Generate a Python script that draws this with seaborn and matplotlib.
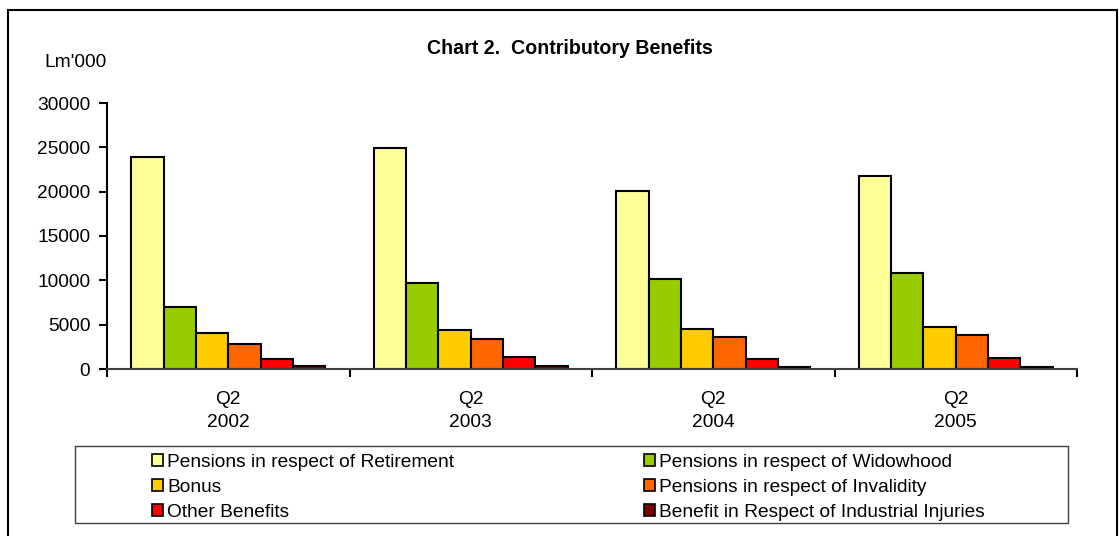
import matplotlib
matplotlib.use("Agg")
import matplotlib.pyplot as plt
import matplotlib.patches as mpatches
import pandas as pd
import seaborn as sns

# values in Lm'000
periods = ["Q2\n2002", "Q2\n2003", "Q2\n2004", "Q2\n2005"]
retirement = [23900, 24900, 20100, 21800]
widowhood = [7000, 9700, 10100, 10850]
bonus = [4050, 4350, 4500, 4700]
invalidity = [2850, 3350, 3650, 3800]
other = [1150, 1350, 1100, 1200]
injuries = [300, 300, 250, 250]

series = {
    "Pensions in respect of Retirement": retirement,
    "Pensions in respect of Widowhood": widowhood,
    "Bonus": bonus,
    "Pensions in respect of Invalidity": invalidity,
    "Other Benefits": other,
    "Benefit in Respect of Industrial Injuries": injuries,
}
colors = ["#FFFF99", "#99CC00", "#FFCC00", "#FF6600", "#FF0000", "#800000"]

rows = []
for name, vals in series.items():
    for p, v in zip(periods, vals):
        rows.append({"period": p, "benefit": name, "value": v})
df = pd.DataFrame(rows)

sns.set_style("white")
plt.rcParams["font.family"] = ["Liberation Sans", "DejaVu Sans"]
plt.rcParams["text.color"] = "black"
plt.rcParams["xtick.color"] = "black"
plt.rcParams["ytick.color"] = "black"
plt.rcParams["xtick.labelcolor"] = "black"
plt.rcParams["ytick.labelcolor"] = "black"

fig = plt.figure(figsize=(11.19, 5.36), dpi=100)
ax = fig.add_axes([107 / 1119, 1 - 369 / 536, (1077 - 107) / 1119, (369 - 103) / 536])

sns.barplot(data=df, x="period", y="value", hue="benefit", palette=colors,
            order=periods, hue_order=list(series), width=0.8, saturation=1,
            edgecolor="black", linewidth=1.5, ax=ax, legend=False)

ax.set_xlim(-0.5, len(periods) - 0.5)
ax.set_ylim(0, 30000)
ax.set_yticks(range(0, 30001, 5000))
ax.set_xlabel("")
ax.set_ylabel("")
for s in ["top", "right"]:
    ax.spines[s].set_visible(False)
ax.spines["left"].set_linewidth(1.5)
ax.spines["left"].set_color("black")
ax.spines["bottom"].set_linewidth(1.5)
ax.spines["bottom"].set_color("#404040")

# tick marks sit on the group boundaries, labels in the middle
ax.set_xticks([i - 0.5 for i in range(len(periods) + 1)], minor=True)
ax.tick_params(axis="x", which="major", length=0, labelsize=13.8, pad=16)
ax.tick_params(axis="x", which="minor", length=6, width=1.5, direction="out", bottom=True)
ax.tick_params(axis="y", length=6, width=1.5, direction="out", left=True, labelsize=13.8, pad=6)
for lbl in ax.get_xticklabels():
    lbl.set_linespacing(1.45)

fig.text(570 / 1119, 1 - 48 / 536, "Chart 2.  Contributory Benefits",
         ha="center", va="center", fontsize=14.1, fontweight="bold")
fig.text(75 / 1119, 1 - 62 / 536, "Lm'000", ha="center", va="center", fontsize=13.8)

# outer frame
fig.patches.append(mpatches.Rectangle((8 / 1119, -0.05), (1117 - 8) / 1119, 1.05 - 10 / 536,
                                      transform=fig.transFigure, fill=False,
                                      edgecolor="black", linewidth=1.5))
# legend box
fig.patches.append(mpatches.Rectangle((75 / 1119, 1 - 523 / 536), (1068 - 75) / 1119, 77 / 536,
                                      transform=fig.transFigure, fill=False,
                                      edgecolor="#404040", linewidth=1.0))

names = list(series)
handles = [mpatches.Patch(facecolor=c, edgecolor="black", linewidth=1.2) for c in colors]
order = [0, 2, 4, 1, 3, 5]
fig.legend([handles[i] for i in order], [names[i] for i in order],
           loc="upper left", bbox_to_anchor=(142 / 1119, 1 - 444 / 536), ncol=2,
           frameon=False, fontsize=13.8, handlelength=0.6, handleheight=0.6,
           handletextpad=0.2, labelspacing=0.42, columnspacing=9.9, borderpad=0)

fig.savefig("out.png", dpi=100)
